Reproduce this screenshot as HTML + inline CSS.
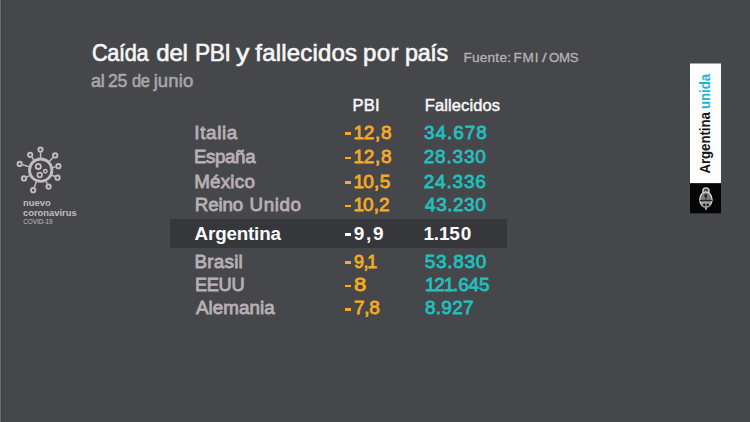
<!DOCTYPE html>
<html>
<head>
<meta charset="utf-8">
<style>
html,body{margin:0;padding:0;}
body{width:750px;height:422px;overflow:hidden;background:#46474b;font-family:"Liberation Sans",sans-serif;position:relative;}
.t{position:absolute;white-space:nowrap;line-height:1;} .o{margin:0 -1.00px;}
.m{position:absolute;left:344.6px;width:6.6px;height:2.5px;}
#band{position:absolute;left:170px;top:219px;width:337px;height:29px;background:#36373b;}
#e0{position:absolute;left:0;top:0;width:1px;height:422px;background:#6e7074;}
#e1{position:absolute;left:1px;top:0;width:1px;height:422px;background:#3e3f43;}
</style>
</head>
<body>
<div id="e0"></div><div id="e1"></div>
<div id="band"></div>
<div class="t" style="left:91.85px;top:40.80px;font-size:24px;color:#f6f6f6;-webkit-text-stroke:0.65px #f6f6f6;letter-spacing:-0.350px;transform:scaleX(0.9037);transform-origin:0 0;">Caída</div>
<div class="t" style="left:156.27px;top:40.80px;font-size:24px;color:#f6f6f6;-webkit-text-stroke:0.65px #f6f6f6;letter-spacing:-0.201px;">del</div>
<div class="t" style="left:194.81px;top:40.80px;font-size:24px;color:#f6f6f6;-webkit-text-stroke:0.65px #f6f6f6;letter-spacing:-0.350px;transform:scaleX(0.9448);transform-origin:0 0;">PBI</div>
<div class="t" style="left:235.78px;top:40.80px;font-size:24px;color:#f6f6f6;-webkit-text-stroke:0.65px #f6f6f6;letter-spacing:0.000px;transform:scaleX(1.1142);transform-origin:0 0;">y</div>
<div class="t" style="left:255.28px;top:40.80px;font-size:24px;color:#f6f6f6;-webkit-text-stroke:0.65px #f6f6f6;letter-spacing:0.193px;">fallecidos</div>
<div class="t" style="left:363.04px;top:40.80px;font-size:24px;color:#f6f6f6;-webkit-text-stroke:0.65px #f6f6f6;letter-spacing:0.386px;">por</div>
<div class="t" style="left:404.94px;top:40.80px;font-size:24px;color:#f6f6f6;-webkit-text-stroke:0.65px #f6f6f6;letter-spacing:-0.350px;transform:scaleX(0.9721);transform-origin:0 0;">país</div>
<div class="t" style="left:463.38px;top:50.50px;font-size:13.6px;color:#b6b2b4;-webkit-text-stroke:0.3px #b6b2b4;letter-spacing:0.253px;">Fuente:</div>
<div class="t" style="left:513.38px;top:50.50px;font-size:13.6px;color:#b6b2b4;-webkit-text-stroke:0.3px #b6b2b4;letter-spacing:0.818px;">FMI</div>
<div class="t" style="left:541.94px;top:50.50px;font-size:13.6px;color:#b6b2b4;-webkit-text-stroke:0.3px #b6b2b4;letter-spacing:0.000px;transform:scaleX(1.2168);transform-origin:0 0;">/</div>
<div class="t" style="left:549.43px;top:50.50px;font-size:13.6px;color:#b6b2b4;-webkit-text-stroke:0.3px #b6b2b4;letter-spacing:-0.350px;transform:scaleX(0.9740);transform-origin:0 0;">OMS</div>
<div class="t" style="left:90.97px;top:72.20px;font-size:18.5px;color:#a8a6a8;-webkit-text-stroke:0.6px #a8a6a8;letter-spacing:-0.350px;transform:scaleX(0.9763);transform-origin:0 0;">al</div>
<div class="t" style="left:108.07px;top:72.20px;font-size:18.5px;color:#a8a6a8;-webkit-text-stroke:0.6px #a8a6a8;letter-spacing:-0.350px;transform:scaleX(0.9483);transform-origin:0 0;">25</div>
<div class="t" style="left:131.58px;top:72.20px;font-size:18.5px;color:#a8a6a8;-webkit-text-stroke:0.6px #a8a6a8;letter-spacing:-0.350px;transform:scaleX(0.8918);transform-origin:0 0;">de</div>
<div class="t" style="left:153.63px;top:72.20px;font-size:18.5px;color:#a8a6a8;-webkit-text-stroke:0.6px #a8a6a8;letter-spacing:0.129px;">junio</div>
<div class="t" style="left:352.56px;top:96.91px;font-size:16.5px;color:#f6f6f6;-webkit-text-stroke:0.5px #f6f6f6;letter-spacing:0.178px;">PBI</div>
<div class="t" style="left:424.73px;top:96.91px;font-size:16.5px;color:#f6f6f6;-webkit-text-stroke:0.5px #f6f6f6;letter-spacing:0.109px;">Fallecidos</div>
<div class="t" style="left:194.37px;top:123.71px;font-size:18.8px;color:#b8b0b4;-webkit-text-stroke:0.8px #b8b0b4;letter-spacing:0.656px;">Italia</div>
<div class="t" style="left:354.48px;top:122.71px;font-size:19px;color:#f3ab24;-webkit-text-stroke:0.8px #f3ab24;letter-spacing:0.745px;"><span class="o">1</span>2,8</div>
<div class="m" style="top:132.4px;background:#f3ab24"></div>
<div class="t" style="left:423.93px;top:122.71px;font-size:19px;color:#22bfbd;-webkit-text-stroke:0.8px #22bfbd;letter-spacing:0.971px;">34.678</div>
<div class="t" style="left:193.93px;top:147.91px;font-size:18.8px;color:#b8b0b4;-webkit-text-stroke:0.8px #b8b0b4;letter-spacing:-0.350px;transform:scaleX(0.9930);transform-origin:0 0;">España</div>
<div class="t" style="left:354.48px;top:146.91px;font-size:19px;color:#f3ab24;-webkit-text-stroke:0.8px #f3ab24;letter-spacing:0.745px;"><span class="o">1</span>2,8</div>
<div class="m" style="top:156.6px;background:#f3ab24"></div>
<div class="t" style="left:423.68px;top:146.91px;font-size:19px;color:#22bfbd;-webkit-text-stroke:0.8px #22bfbd;letter-spacing:0.808px;">28.330</div>
<div class="t" style="left:194.19px;top:172.50px;font-size:18.8px;color:#b8b0b4;-webkit-text-stroke:0.8px #b8b0b4;letter-spacing:0.234px;">México</div>
<div class="t" style="left:354.48px;top:171.51px;font-size:19px;color:#f3ab24;-webkit-text-stroke:0.8px #f3ab24;letter-spacing:0.256px;"><span class="o">1</span>0,5</div>
<div class="m" style="top:181.2px;background:#f3ab24"></div>
<div class="t" style="left:423.68px;top:171.51px;font-size:19px;color:#22bfbd;-webkit-text-stroke:0.8px #22bfbd;letter-spacing:0.828px;">24.336</div>
<div class="t" style="left:194.86px;top:195.82px;font-size:18.8px;color:#b8b0b4;-webkit-text-stroke:0.8px #b8b0b4;letter-spacing:-0.196px;">Reino</div>
<div class="t" style="left:249.50px;top:195.82px;font-size:18.8px;color:#b8b0b4;-webkit-text-stroke:0.8px #b8b0b4;letter-spacing:0.581px;">Unido</div>
<div class="t" style="left:354.48px;top:194.80px;font-size:19px;color:#f3ab24;-webkit-text-stroke:0.8px #f3ab24;letter-spacing:0.030px;"><span class="o">1</span>0,2</div>
<div class="m" style="top:204.5px;background:#f3ab24"></div>
<div class="t" style="left:425.11px;top:194.80px;font-size:19px;color:#22bfbd;-webkit-text-stroke:0.8px #22bfbd;letter-spacing:0.507px;">43.230</div>
<div class="t" style="left:194.58px;top:224.50px;font-size:18.8px;font-weight:bold;color:#fbfbfb;letter-spacing:-0.162px;">Argentina</div>
<div class="t" style="left:353.85px;top:223.51px;font-size:19px;font-weight:bold;color:#fbfbfb;letter-spacing:1.654px;">9,9</div>
<div class="m" style="top:233.2px;background:#fbfbfb"></div>
<div class="t" style="left:424.41px;top:223.51px;font-size:19px;font-weight:bold;color:#fbfbfb;letter-spacing:0.833px;"><span class="o">1</span>.<span class="o">1</span>50</div>
<div class="t" style="left:194.55px;top:252.50px;font-size:18.8px;color:#b8b0b4;-webkit-text-stroke:0.8px #b8b0b4;letter-spacing:0.241px;">Brasil</div>
<div class="t" style="left:353.91px;top:251.51px;font-size:19px;color:#f3ab24;-webkit-text-stroke:0.8px #f3ab24;letter-spacing:-0.350px;transform:scaleX(0.9404);transform-origin:0 0;">9,<span class="o">1</span></div>
<div class="m" style="top:261.2px;background:#f3ab24"></div>
<div class="t" style="left:424.78px;top:251.51px;font-size:19px;color:#22bfbd;-webkit-text-stroke:0.8px #22bfbd;letter-spacing:0.707px;">53.830</div>
<div class="t" style="left:194.77px;top:275.82px;font-size:18.8px;color:#b8b0b4;-webkit-text-stroke:0.8px #b8b0b4;letter-spacing:-0.350px;transform:scaleX(0.9699);transform-origin:0 0;">EEUU</div>
<div class="t" style="left:353.82px;top:274.80px;font-size:19px;color:#f3ab24;-webkit-text-stroke:0.8px #f3ab24;letter-spacing:0.000px;transform:scaleX(1.1629);transform-origin:0 0;">8</div>
<div class="m" style="top:284.5px;background:#f3ab24"></div>
<div class="t" style="left:425.95px;top:274.80px;font-size:19px;color:#22bfbd;-webkit-text-stroke:0.8px #22bfbd;letter-spacing:-0.192px;"><span class="o">1</span>2<span class="o">1</span>.645</div>
<div class="t" style="left:195.89px;top:299.32px;font-size:18.8px;color:#b8b0b4;-webkit-text-stroke:0.8px #b8b0b4;letter-spacing:0.078px;">Alemania</div>
<div class="t" style="left:353.98px;top:298.30px;font-size:19px;color:#f3ab24;-webkit-text-stroke:0.8px #f3ab24;letter-spacing:-0.243px;">7,8</div>
<div class="m" style="top:308.0px;background:#f3ab24"></div>
<div class="t" style="left:424.94px;top:298.30px;font-size:19px;color:#22bfbd;-webkit-text-stroke:0.8px #22bfbd;letter-spacing:0.289px;">8.927</div>
<svg style="position:absolute;left:0;top:0" width="100" height="240" viewBox="0 0 100 240">
<g fill="none" stroke="#c4bcbf">
<circle cx="40.7" cy="170.2" r="11.2" stroke-width="2.8"/>
<line x1="40.58" y1="157.80" x2="40.53" y2="152.60" stroke-width="1.5"/>
<circle cx="40.5" cy="149.6" r="2.15" stroke-width="1.95"/>
<line x1="33.71" y1="159.95" x2="31.89" y2="157.28" stroke-width="1.5"/>
<circle cx="30.2" cy="154.8" r="2.15" stroke-width="1.95"/>
<line x1="49.38" y1="161.34" x2="53.10" y2="157.54" stroke-width="1.5"/>
<circle cx="55.2" cy="155.4" r="2.15" stroke-width="1.95"/>
<line x1="28.82" y1="166.64" x2="22.57" y2="164.76" stroke-width="1.5"/>
<circle cx="19.7" cy="163.9" r="2.15" stroke-width="1.95"/>
<line x1="52.79" y1="167.47" x2="55.47" y2="166.86" stroke-width="1.5"/>
<circle cx="58.4" cy="166.2" r="2.15" stroke-width="1.95"/>
<line x1="29.57" y1="175.67" x2="26.69" y2="177.08" stroke-width="1.5"/>
<circle cx="24.0" cy="178.4" r="2.15" stroke-width="1.95"/>
<line x1="52.02" y1="175.25" x2="54.76" y2="176.48" stroke-width="1.5"/>
<circle cx="57.5" cy="177.7" r="2.15" stroke-width="1.95"/>
<line x1="46.08" y1="181.37" x2="47.30" y2="183.90" stroke-width="1.5"/>
<circle cx="48.6" cy="186.6" r="2.15" stroke-width="1.95"/>
<line x1="36.35" y1="181.81" x2="34.25" y2="187.39" stroke-width="1.5"/>
<circle cx="33.2" cy="190.2" r="2.15" stroke-width="1.95"/>
<circle cx="38.3" cy="166.4" r="2.6" stroke-width="1.8"/>
<circle cx="45.3" cy="171.2" r="1.7" stroke-width="1.5"/>
<circle cx="39.7" cy="175.0" r="2.3" stroke-width="1.7"/>
</g>
<text x="23" y="206" font-family="Liberation Sans" font-weight="bold" font-size="9.4" fill="#c4bcbf">nuevo</text>
<text x="23" y="215.6" font-family="Liberation Sans" font-weight="bold" font-size="9.4" fill="#c4bcbf">coronavirus</text>
<text x="23.2" y="224.4" font-family="Liberation Sans" font-size="6.4" fill="#c4bcbf">COVID-19</text>
</svg>
<svg style="position:absolute;left:680px;top:55px" width="60" height="170" viewBox="680 55 60 170">
<rect x="690" y="63.5" width="31" height="119.8" fill="#fdfdfd"/>
<rect x="690" y="183.3" width="31" height="30" fill="#060606"/>
<text transform="translate(710.4,173.6) rotate(-90)" font-family="Liberation Sans" font-weight="bold" font-size="14" fill="#141414" textLength="61.5" lengthAdjust="spacingAndGlyphs">Argentina</text>
<text transform="translate(710.4,109.0) rotate(-90)" font-family="Liberation Sans" font-weight="bold" font-size="14" fill="#22b3d2" textLength="35.2" lengthAdjust="spacingAndGlyphs">unida</text>
<circle cx="705.95" cy="190.9" r="3.1" fill="#4e4e4e" stroke="#d6d6d6" stroke-width="1.3"/>
<ellipse cx="705.9" cy="199.5" rx="6.1" ry="7.7" fill="#7a7a7a" stroke="#dedede" stroke-width="1.3"/>
<path d="M700.6 202.3 Q705.9 200.8 711.2 202.3 L710.4 205 Q708 207.6 705.9 206.8 Q703.8 207.6 701.4 205 Z" fill="#a4a4a4"/>
<path d="M699.9 200.5 H711.9" stroke="#262626" stroke-width="1.3"/>
<ellipse cx="704.3" cy="204.9" rx="1.3" ry="1.4" fill="#1c1c1c"/>
<ellipse cx="707.7" cy="204.9" rx="1.3" ry="1.4" fill="#1c1c1c"/>
<ellipse cx="705.8" cy="195.9" rx="1.3" ry="1.8" fill="#1a1a1a"/>
<path d="M705.9 197.5 V200" stroke="#333" stroke-width="0.8"/>
<rect x="704.9" y="208" width="2.1" height="1.7" rx="0.6" fill="#bdbdbd"/>
</svg>

</body>
</html>
